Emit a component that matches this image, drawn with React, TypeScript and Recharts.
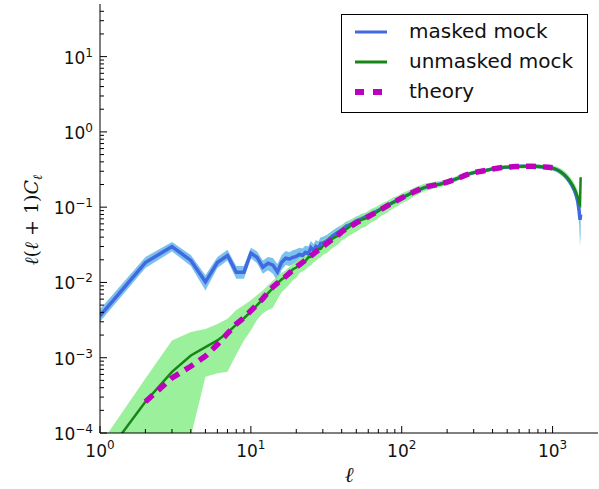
import {
  Area,
  ComposedChart,
  Legend,
  Line,
  XAxis,
  YAxis,
} from "recharts";

// multipoles
const ells = [
  1, 2, 3, 4, 5, 6, 7, 8, 9, 10,
  11, 12, 13, 14, 15, 16, 17, 18, 19, 20,
  21, 22, 23, 24, 25, 26, 27, 28, 29, 30,
  32, 35, 38, 40, 43, 46, 50, 54, 58, 63, 68, 74, 80, 87, 94, 100,
  110, 120, 130, 140, 150, 165, 180, 200, 220, 240, 260, 280, 300,
  330, 360, 400, 440, 480, 520, 570, 620, 680, 740, 800, 870, 940, 1000,
  1060, 1120, 1180, 1240, 1300, 1350, 1400, 1440, 1470, 1500, 1520, 1535,
];

const theory = [
  null, 2.6e-4, 5.4e-4, 7.7e-4, 1.05e-3, 1.5e-3, 2.1e-3, 2.8e-3, 3.4e-3, 4.2e-3,
  5.1e-3, 6.1e-3, 7.4e-3, 8.7e-3, 9.8e-3, 0.0108, 0.012, 0.0133, 0.0146, 0.016,
  0.0172, 0.0185, 0.0197, 0.021, 0.0225, 0.024, 0.0255, 0.027, 0.0285, 0.03,
  0.033, 0.038, 0.043, 0.047, 0.052, 0.056, 0.062, 0.067, 0.072, 0.079, 0.086, 0.095, 0.104, 0.114, 0.124, 0.133,
  0.146, 0.159, 0.171, 0.181, 0.189, 0.196, 0.203, 0.215, 0.23, 0.245, 0.262, 0.277, 0.288,
  0.298, 0.308, 0.322, 0.332, 0.338, 0.342, 0.346, 0.349, 0.35, 0.349, 0.347, 0.343, 0.338, 0.333,
  null, null, null, null, null, null, null, null, null, null, null, null,
];

const unmaskedMock = [
  4.0e-5, 2.6e-4, 6.5e-4, 1.07e-3, 1.38e-3, 1.7e-3, 2.15e-3, 2.75e-3, 3.35e-3, 4.1e-3,
  5.0e-3, 6.0e-3, 7.2e-3, 8.4e-3, 9.7e-3, 0.011, 0.0119, 0.013, 0.015, 0.0158,
  0.0176, 0.0182, 0.0193, 0.0215, 0.022, 0.0245, 0.025, 0.0275, 0.028, 0.0305,
  0.0325, 0.0385, 0.042, 0.048, 0.051, 0.057, 0.061, 0.068, 0.071, 0.08, 0.085, 0.096, 0.103, 0.115, 0.123, 0.134,
  0.145, 0.16, 0.17, 0.182, 0.188, 0.197, 0.202, 0.216, 0.229, 0.246, 0.261, 0.278, 0.287,
  0.299, 0.307, 0.323, 0.331, 0.339, 0.341, 0.347, 0.348, 0.351, 0.348, 0.347, 0.342, 0.337, 0.33,
  0.318, 0.3, 0.278, 0.253, 0.225, 0.2, 0.175, 0.152, 0.135, 0.112, 0.108, 0.25,
];

const unmaskedLo = [
  1e-6, 5e-6, 2e-5, 9e-5, 5.6e-4, 6.2e-4, 6.5e-4, 1.1e-3, 1.7e-3, 2.3e-3,
  3.2e-3, 3.9e-3, 4.3e-3, 4.6e-3, 6.0e-3, 7.4e-3, 8.4e-3, 9.4e-3, 0.0108, 0.0115,
  0.0133, 0.014, 0.0147, 0.016, 0.0168, 0.0185, 0.0192, 0.0208, 0.0215, 0.0231,
  0.0248, 0.029, 0.0322, 0.0362, 0.0392, 0.0435, 0.047, 0.0525, 0.0555, 0.063, 0.068, 0.0775, 0.084, 0.095, 0.103, 0.113,
  0.124, 0.138, 0.149, 0.161, 0.168, 0.178, 0.184, 0.198, 0.211, 0.228, 0.243, 0.26, 0.269,
  0.281, 0.289, 0.305, 0.312, 0.319, 0.321, 0.327, 0.327, 0.33, 0.326, 0.324, 0.318, 0.312, 0.304,
  0.291, 0.272, 0.25, 0.225, 0.197, 0.172, 0.148, 0.126, 0.11, 0.088, 0.082, 0.19,
];

const unmaskedHi = [
  7e-5, 5.3e-4, 1.7e-3, 2.2e-3, 2.4e-3, 2.8e-3, 3.3e-3, 4.3e-3, 5.0e-3, 5.8e-3,
  6.8e-3, 7.8e-3, 9.2e-3, 0.0105, 0.012, 0.0135, 0.0145, 0.016, 0.0178, 0.019,
  0.0213, 0.0222, 0.0236, 0.0262, 0.027, 0.0296, 0.0307, 0.0333, 0.0342, 0.037,
  0.0398, 0.0465, 0.051, 0.058, 0.062, 0.069, 0.074, 0.0815, 0.085, 0.095, 0.101, 0.113, 0.121, 0.133, 0.142, 0.153,
  0.165, 0.181, 0.192, 0.204, 0.209, 0.218, 0.222, 0.236, 0.249, 0.266, 0.28, 0.297, 0.306,
  0.318, 0.326, 0.342, 0.351, 0.359, 0.362, 0.368, 0.37, 0.373, 0.371, 0.371, 0.367, 0.363, 0.357,
  0.347, 0.331, 0.31, 0.285, 0.256, 0.231, 0.205, 0.182, 0.165, 0.14, 0.15, 0.31,
];

const maskedMock = [
  0.0036, 0.0184, 0.03, 0.0196, 0.0102, 0.0184, 0.0228, 0.0137, 0.0137, 0.0245,
  0.0215, 0.016, 0.018, 0.017, 0.0138, 0.0185, 0.021, 0.0205, 0.0215, 0.0222,
  0.0235, 0.0228, 0.025, 0.024, 0.029, 0.0265, 0.03, 0.0285, 0.033, 0.0335,
  0.036, 0.042, 0.047, 0.05, 0.056, 0.059, 0.066, 0.07, 0.075, 0.081, 0.088, 0.096, 0.105, 0.115, 0.124, 0.133,
  0.146, 0.16, 0.17, 0.181, 0.189, 0.196, 0.203, 0.215, 0.23, 0.245, 0.262, 0.277, 0.288,
  0.298, 0.308, 0.322, 0.332, 0.338, 0.342, 0.346, 0.349, 0.35, 0.349, 0.346, 0.342, 0.336, 0.33,
  0.316, 0.297, 0.274, 0.248, 0.218, 0.192, 0.165, 0.14, 0.118, 0.088, 0.068, 0.08,
];

const maskedLo = [
  0.003, 0.0155, 0.0258, 0.0165, 0.0078, 0.0155, 0.0195, 0.0112, 0.0112, 0.021,
  0.018, 0.013, 0.0145, 0.013, 0.0102, 0.0146, 0.017, 0.0165, 0.0175, 0.018,
  0.019, 0.0185, 0.0205, 0.0195, 0.024, 0.022, 0.025, 0.024, 0.028, 0.0285,
  0.0315, 0.037, 0.0415, 0.0445, 0.05, 0.053, 0.0595, 0.0635, 0.0685, 0.0745, 0.0815, 0.0895, 0.098, 0.108, 0.117, 0.126,
  0.139, 0.152, 0.162, 0.173, 0.18, 0.187, 0.194, 0.206, 0.22, 0.235, 0.251, 0.266, 0.276,
  0.286, 0.296, 0.309, 0.318, 0.324, 0.328, 0.331, 0.334, 0.335, 0.334, 0.331, 0.326, 0.32, 0.313,
  0.298, 0.278, 0.254, 0.227, 0.196, 0.169, 0.142, 0.116, 0.093, 0.06, 0.03, 0.045,
];

const maskedHi = [
  0.0044, 0.0218, 0.0345, 0.0232, 0.0125, 0.0218, 0.0272, 0.0165, 0.0165, 0.0288,
  0.0258, 0.0196, 0.0218, 0.0212, 0.0176, 0.0232, 0.0262, 0.0252, 0.0268, 0.0276,
  0.0288, 0.0283, 0.031, 0.03, 0.0355, 0.0325, 0.0365, 0.035, 0.04, 0.0405,
  0.043, 0.0495, 0.055, 0.058, 0.0645, 0.0675, 0.075, 0.079, 0.084, 0.09, 0.097, 0.105, 0.114, 0.124, 0.133, 0.142,
  0.154, 0.168, 0.178, 0.19, 0.198, 0.205, 0.212, 0.225, 0.24, 0.256, 0.273, 0.289, 0.3,
  0.311, 0.321, 0.336, 0.346, 0.352, 0.357, 0.361, 0.364, 0.365, 0.364, 0.362, 0.358, 0.352, 0.347,
  0.334, 0.316, 0.294, 0.269, 0.24, 0.215, 0.188, 0.164, 0.143, 0.116, 0.1, 0.115,
];

const xMajorTicks = [1, 10, 100, 1000];
const yMajorTicks = [1e-4, 1e-3, 1e-2, 1e-1, 1, 10];
const minorSteps = [2, 3, 4, 5, 6, 7, 8, 9];

const xTicks = [
  ...xMajorTicks,
  ...xMajorTicks.flatMap((d) => minorSteps.map((m) => d * m)),
].filter((v) => v < 2000);
const yTicks = [
  ...yMajorTicks,
  ...yMajorTicks.flatMap((d) => minorSteps.map((m) => d * m)),
].filter((v) => v < 50);

const data = ells.map((l, i) => ({
  l,
  masked: maskedMock[i],
  maskedBand: [maskedLo[i], maskedHi[i]],
  unmasked: unmaskedMock[i],
  unmaskedBand: [unmaskedLo[i], unmaskedHi[i]],
  theory: theory[i],
}));

const BLUE = "#4169e1";
const BLUE_BAND = "#7cc2ec";
const GREEN = "#188518";
const GREEN_BAND = "#90ee90";
const MAGENTA = "#bf00bf";
const FONT = "'DejaVu Sans', sans-serif";
const SERIF = "'DejaVu Serif', serif";

const isMajor = (v: number) => {
  const lg = Math.log10(v);
  return Math.abs(lg - Math.round(lg)) < 1e-6;
};
const expText = (v: number) => {
  const e = Math.round(Math.log10(v));
  return e < 0 ? `\u2212${-e}` : `${e}`;
};

function BottomTick({ x, y, payload }: any) {
  const v = payload.value;
  const major = isMajor(v);
  return (
    <g>
      <line x1={x} x2={x} y1={y} y2={y - (major ? 7 : 4)} stroke="#000" />
      {major && (
        <text x={x} y={y + 24} textAnchor="middle" fontSize={17} fontFamily={FONT} fill="#111">
          10
          <tspan dy={-8} fontSize={12}>
            {expText(v)}
          </tspan>
        </text>
      )}
    </g>
  );
}

function TopTick({ x, y, payload }: any) {
  const major = isMajor(payload.value);
  return <line x1={x} x2={x} y1={y} y2={y + (major ? 7 : 4)} stroke="#000" />;
}

function LeftTick({ x, y, payload }: any) {
  const v = payload.value;
  const major = isMajor(v);
  return (
    <g>
      <line x1={x} x2={x + (major ? 7 : 4)} y1={y} y2={y} stroke="#000" />
      {major && (
        <text x={x - 7} y={y + 7} textAnchor="end" fontSize={17} fontFamily={FONT} fill="#111">
          10
          <tspan dy={-7} fontSize={12}>
            {expText(v)}
          </tspan>
        </text>
      )}
    </g>
  );
}

function RightTick({ x, y, payload }: any) {
  const major = isMajor(payload.value);
  return <line x1={x} x2={x - (major ? 7 : 4)} y1={y} y2={y} stroke="#000" />;
}

function XLabel() {
  return (
    <text x={349} y={482} textAnchor="middle" fontSize={21} fontFamily={SERIF} fontStyle="italic" fill="#111">
      ℓ
    </text>
  );
}

function YLabel() {
  return (
    <text
      transform="translate(38,220) rotate(-90)"
      textAnchor="middle"
      fontSize={19}
      fontFamily={SERIF}
      fill="#111"
    >
      <tspan fontStyle="italic">ℓ</tspan>(<tspan fontStyle="italic">ℓ</tspan> + 1)
      <tspan fontStyle="italic">C</tspan>
      <tspan fontStyle="italic" fontSize={13} dy={4}>
        ℓ
      </tspan>
    </text>
  );
}

const legendItems = [
  { name: "masked mock", color: BLUE, width: 3, dash: undefined },
  { name: "unmasked mock", color: GREEN, width: 3, dash: undefined },
  { name: "theory", color: MAGENTA, width: 6, dash: "9 9" },
];

function renderLegend() {
  return (
    <svg width={247} height={99} style={{ display: "block" }}>
      <rect x={0.5} y={0.5} width={246} height={98} fill="#fff" stroke="#000" />
      {legendItems.map((it, i) => (
        <g key={it.name}>
          <line
            x1={14}
            x2={46}
            y1={18 + i * 30}
            y2={18 + i * 30}
            stroke={it.color}
            strokeWidth={it.width}
            strokeDasharray={it.dash}
          />
          <text x={68} y={24 + i * 30} fontSize={20} fontFamily={FONT} fill="#111">
            {it.name}
          </text>
        </g>
      ))}
    </svg>
  );
}

export default function App() {
  return (
    <div style={{ position: "absolute", left: 0, top: 0, width: 599, height: 489, background: "#fff" }}>
      <ComposedChart
        width={599}
        height={489}
        data={data}
        margin={{ top: 4, right: 1, bottom: 0, left: 0 }}
      >
        <XAxis
          xAxisId="b"
          dataKey="l"
          type="number"
          scale="log"
          domain={[1, 2000]}
          allowDataOverflow
          ticks={xTicks}
          interval={0}
          height={56}
          tickSize={0}
          tickMargin={0}
          tickLine={false}
          tick={<BottomTick />}
          axisLine={{ stroke: "#000" }}
          label={<XLabel />}
        />
        <XAxis
          xAxisId="t"
          orientation="top"
          dataKey="l"
          type="number"
          scale="log"
          domain={[1, 2000]}
          allowDataOverflow
          ticks={xTicks}
          interval={0}
          height={0}
          tickSize={0}
          tickMargin={0}
          tickLine={false}
          tick={<TopTick />}
          axisLine={{ stroke: "#000" }}
        />
        <YAxis
          yAxisId="l"
          type="number"
          scale="log"
          domain={[1e-4, 50]}
          allowDataOverflow
          ticks={yTicks}
          interval={0}
          width={100}
          tickSize={0}
          tickMargin={0}
          tickLine={false}
          tick={<LeftTick />}
          axisLine={{ stroke: "#000" }}
          label={<YLabel />}
        />
        <YAxis
          yAxisId="r"
          orientation="right"
          type="number"
          scale="log"
          domain={[1e-4, 50]}
          allowDataOverflow
          ticks={yTicks}
          interval={0}
          width={0}
          tickSize={0}
          tickMargin={0}
          tickLine={false}
          tick={<RightTick />}
          axisLine={{ stroke: "#000" }}
        />
        <Area
          xAxisId="b"
          yAxisId="l"
          dataKey="maskedBand"
          stroke="none"
          fill={BLUE_BAND}
          fillOpacity={1}
          isAnimationActive={false}
          activeDot={false}
        />
        <Line
          xAxisId="b"
          yAxisId="l"
          dataKey="masked"
          stroke={BLUE}
          strokeWidth={3.5}
          dot={false}
          isAnimationActive={false}
        />
        <Area
          xAxisId="b"
          yAxisId="l"
          dataKey="unmaskedBand"
          stroke="none"
          fill={GREEN_BAND}
          fillOpacity={0.9}
          isAnimationActive={false}
          activeDot={false}
        />
        <Line
          xAxisId="b"
          yAxisId="l"
          dataKey="unmasked"
          stroke={GREEN}
          strokeWidth={2.5}
          dot={false}
          isAnimationActive={false}
        />
        <Line
          xAxisId="b"
          yAxisId="l"
          dataKey="theory"
          stroke={MAGENTA}
          strokeWidth={5.5}
          strokeDasharray="10 7"
          dot={false}
          isAnimationActive={false}
        />
        <Legend
          layout="horizontal"
          verticalAlign="middle"
          align="center"
          content={renderLegend}
          wrapperStyle={{ position: "absolute", left: 341, top: 14, width: 247, height: 99 }}
        />
      </ComposedChart>
    </div>
  );
}
